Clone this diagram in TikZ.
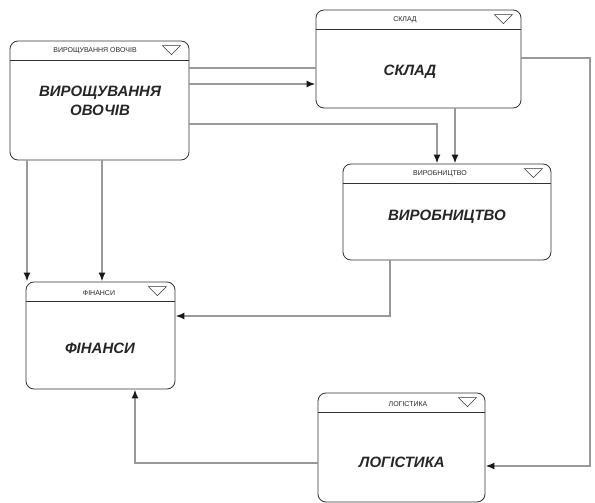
\documentclass[tikz,border=0pt]{standalone}
\usepackage{fontspec}
\setmainfont{Liberation Sans}
\usetikzlibrary{arrows.meta}

\begin{document}
\begin{tikzpicture}[
        x=1pt, y=-1pt,
        blok/.style={draw=black!80, line width=0.8pt, rounded corners=8pt, inner sep=0pt},
        zagol/.style={font=\fontsize{7}{8}\selectfont, text=black!85, inner sep=0pt},
        glavn/.style={font=\fontsize{15}{19}\selectfont\bfseries\itshape, text=black!85, align=center, inner sep=0pt},
        zv/.style={draw=black!40, line width=2pt},
        zvs/.style={zv, -{Latex[black!90, length=9pt, width=7pt]}}
    ]
    \useasboundingbox (0,0) rectangle (595,503);

    % blocks
    \node[blok, minimum width=179pt, minimum height=119pt] (veg) at (99.5,100.5) {};
    \node[blok, minimum width=205pt, minimum height=98pt] (sklad) at (418.5,59) {};
    \node[blok, minimum width=208pt, minimum height=96pt] (vyrob) at (447,212) {};
    \node[blok, minimum width=149pt, minimum height=107pt] (fin) at (100.5,335.5) {};
    \node[blok, minimum width=167pt, minimum height=109pt] (log) at (401.5,447.5) {};

    % header strips
    \foreach \b in {veg,sklad,vyrob,fin,log} {
        \draw[black!80, line width=0.8pt] ([yshift=-19.5pt]\b.north west) -- ([yshift=-19.5pt]\b.north east);
        \draw[black!80, line width=0.6pt] ([xshift=-27pt,yshift=-5pt]\b.north east) -- ++(18,0) -- ++(-9,9) -- cycle;
    }

    % texts
    \node[zagol] (vegz) at (95,51) {ВИРОЩУВАННЯ ОВОЧІВ};
    \node[glavn] (vegt) at (100,101) {ВИРОЩУВАННЯ\\ОВОЧІВ};
    \node[zagol] (skladz) at (405,20) {СКЛАД};
    \node[glavn] (skladt) at (410,72) {СКЛАД};
    \node[zagol] (vyrobz) at (440,174) {ВИРОБНИЦТВО};
    \node[glavn] (vyrobt) at (447,217) {ВИРОБНИЦТВО};
    \node[zagol] (finz) at (99,293) {ФІНАНСИ};
    \node[glavn] (fint) at (100,348) {ФІНАНСИ};
    \node[zagol] (logz) at (408,404) {ЛОГІСТИКА};
    \node[glavn] (logt) at (402,462) {ЛОГІСТИКА};

    % connectors
    \coordinate (ugol) at (590,58);
    \draw[zv] (veg.east |- 0,68) -- (sklad.west |- 0,68);
    \draw[zvs] (veg.east |- 0,84) -- (sklad.west |- 0,84);
    \draw[zvs] (veg.east |- 0,124) -| (vyrob.north -| 437,0);
    \draw[zvs] (sklad.south -| 455,0) -- (vyrob.north -| 455,0);
    \draw[zvs] (sklad.east |- ugol) -- (ugol) |- (log.east |- 0,466);
    \draw[zvs] (veg.south -| 27,0) -- (fin.north -| 27,0);
    \draw[zvs] (veg.south -| 102,0) -- (fin.north -| 102,0);
    \draw[zvs] (vyrob.south -| 390,0) |- (fin.east |- 0,316);
    \draw[zvs] (log.west |- 0,463) -| (fin.south -| 135,0);
\end{tikzpicture}
\end{document}
